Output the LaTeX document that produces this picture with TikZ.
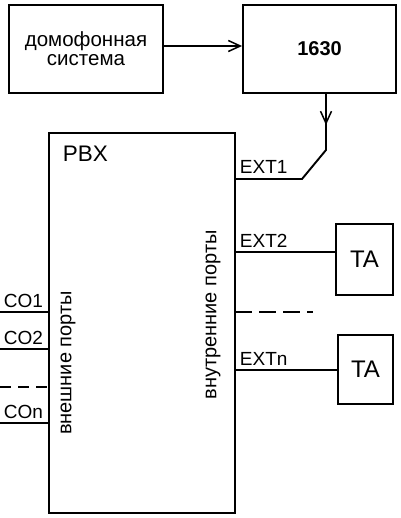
\documentclass[tikz,border=0pt]{standalone}
\usepackage{fontspec}
\setmainfont{Liberation Sans}
\usetikzlibrary{arrows.meta}

\begin{document}
\begin{tikzpicture}[x=1pt,y=-1pt,line width=1.9pt,font=\fontsize{19}{22}\selectfont,
    box/.style={draw,rectangle,inner sep=0pt},
    lbl/.style={anchor=base west,inner sep=0pt,xshift=4pt,yshift=5pt},
    barb/.style={-{Straight Barb[length=12pt,width=11pt,line width=1.5pt]}}]
    \useasboundingbox (0,0) rectangle (400,518);
    \node[box,minimum width=154pt,minimum height=88pt,align=center,
        font=\fontsize{20.5}{19}\selectfont] (door) at (86,49) {домофонная\\система};
    \node[box,minimum width=153pt,minimum height=88pt,
        font=\fontsize{20}{22}\selectfont\bfseries] (dev) at (319.5,49) {1630};
    \node[box,minimum width=186pt,minimum height=380pt] (pbx) at (142,323) {};
    \node[box,minimum width=57pt,minimum height=71pt,font=\fontsize{24}{26}\selectfont] (ta1) at (364.5,259.5) {TA};
    \node[box,minimum width=55pt,minimum height=69pt,font=\fontsize{24}{26}\selectfont] (ta2) at (365.5,369.5) {TA};
    \node[anchor=west,inner sep=0pt,font=\fontsize{22.5}{24}\selectfont] (pbxname) at (62,154) {PBX};
    \node[rotate=90,inner sep=0pt,font=\fontsize{20}{22}\selectfont] (extports) at (68,363) {внешние порты};
    \node[rotate=90,inner sep=0pt,font=\fontsize{20}{22}\selectfont] (intports) at (213,315) {внутренние порты};

    \coordinate (tap) at (326,93);
    \coordinate (bend1) at (326,150);
    \coordinate (bend2) at (302,179);
    \coordinate (ext1) at (235,179);
    \coordinate (ext2) at (235,252);
    \coordinate (extdots) at (235,312);
    \coordinate (extn) at (235,370);
    \coordinate (co1) at (0,312);
    \coordinate (co2) at (0,349);
    \coordinate (codots) at (0,387);
    \coordinate (con) at (0,423);

    \draw[barb] ([yshift=3pt]door.east) -- ([yshift=3pt]door.east -| dev.west);
    \draw[barb] (tap) -- ++(0,32);
    \draw (tap) -- (bend1) -- (bend2) -- (ext1);
    \draw (ext2) -- (ext2 -| ta1.west);
    \draw (extn) -- (extn -| ta2.west);
    \draw[dash pattern=on 17pt off 7pt] (extdots) -- ++(78,0);
    \draw (co1) -- (co1 -| pbx.west);
    \draw (co2) -- (co2 -| pbx.west);
    \draw[dash pattern=on 11pt off 7pt] (codots) -- (codots -| pbx.west);
    \draw (con) -- (con -| pbx.west);

    \node[lbl] at (ext1) {EXT1};
    \node[lbl] at (ext2) {EXT2};
    \node[lbl] at (extn) {EXTn};
    \node[lbl,xshift=-1pt] at (co1) {CO1};
    \node[lbl,xshift=-1pt] at (co2) {CO2};
    \node[lbl,xshift=-1pt] at (con) {COn};
\end{tikzpicture}
\end{document}
